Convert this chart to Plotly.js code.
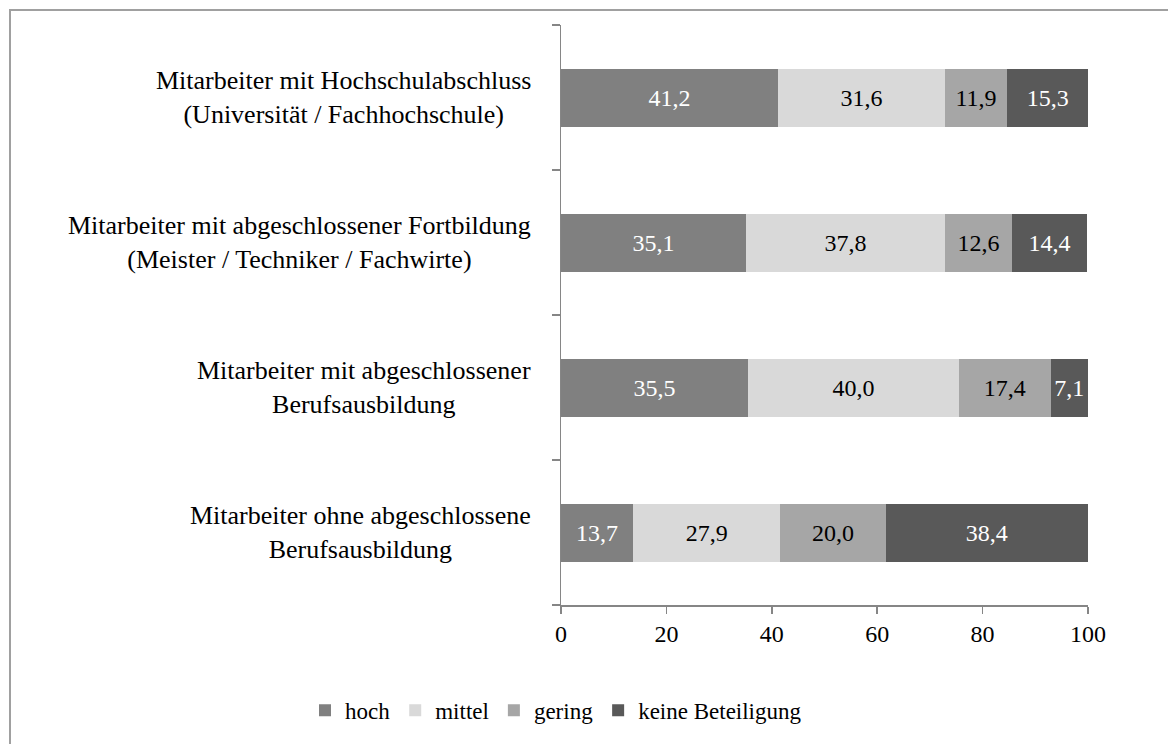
<!DOCTYPE html>
<html>
<head>
<meta charset="utf-8">
<script src="https://cdn.plot.ly/plotly-3.0.1.min.js"></script>
<style>html,body{margin:0;padding:0;background:#fff;}#chart{width:1168px;height:744px;}</style>
</head>
<body>
<div id="chart"></div>
<script>
var categories = [
  "Mitarbeiter ohne abgeschlossene<br>Berufsausbildung",
  "Mitarbeiter mit abgeschlossener<br>Berufsausbildung",
  "Mitarbeiter mit abgeschlossener Fortbildung<br>(Meister / Techniker / Fachwirte)",
  "Mitarbeiter mit Hochschulabschluss<br>(Universität / Fachhochschule)"
];
var seriesNames = ["hoch", "mittel", "gering", "keine Beteiligung"];
var hoch = [13.7, 35.5, 35.1, 41.2];
var mittel = [27.9, 40.0, 37.8, 31.6];
var gering = [20.0, 17.4, 12.6, 11.9];
var keine = [38.4, 7.1, 14.4, 15.3];
var xTicks = [0, 20, 40, 60, 80, 100];

var seriesValues = [hoch, mittel, gering, keine];
var colors = ["#808080", "#D9D9D9", "#A6A6A6", "#595959"];
var textColors = ["#ffffff", "#000000", "#000000", "#ffffff"];
var FONT = "'Times New Roman', 'Liberation Serif', Times, 'DejaVu Serif', serif";

var data = seriesValues.map(function (vals, i) {
  return {
    type: "bar",
    orientation: "h",
    name: seriesNames[i],
    x: vals,
    y: categories,
    marker: { color: colors[i], line: { width: 0 } },
    texttemplate: "%{x:.1f}",
    textposition: "inside",
    insidetextanchor: "middle",
    constraintext: "none",
    textfont: { family: FONT, size: 24, color: textColors[i] },
    hoverinfo: "x+name"
  };
});

var L = 561, R = 1088, T = 25, B = 609;
var W = R - L, H = B - T;
function px(x) { return (x - L) / W; }
function py(y) { return (B - y) / H; }

var annotations = categories.map(function (c) {
  return {
    xref: "paper", yref: "y", x: px(533), y: c,
    xanchor: "right", yanchor: "middle",
    text: c, showarrow: false, align: "center",
    font: { family: FONT, size: 26, color: "#000" }
  };
});

var layout = {
  width: 1168, height: 744,
  margin: { l: L, r: 1168 - R, t: T, b: 744 - B, pad: 0 },
  paper_bgcolor: "#fff", plot_bgcolor: "#fff",
  barmode: "stack",
  bargap: 0.6,
  separators: ",.",
  font: { family: FONT, size: 24, color: "#000" },
  xaxis: {
    range: [0, 100], tickvals: xTicks, ticktext: xTicks.map(String),
    showgrid: false, zeroline: false,
    showline: true, linecolor: "#868686", linewidth: 1.5,
    ticks: "outside", ticklen: 7, tickcolor: "#868686", tickwidth: 1.5,
    tickfont: { family: FONT, size: 24, color: "#000" },
    fixedrange: true
  },
  yaxis: {
    type: "category", categoryorder: "array", categoryarray: categories,
    showticklabels: false, showgrid: false, zeroline: false,
    showline: true, linecolor: "#868686", linewidth: 1.5,
    ticks: "outside", ticklen: 8, tickcolor: "#868686", tickwidth: 1.5,
    tickson: "boundaries",
    fixedrange: true
  },
  showlegend: true,
  legend: {
    orientation: "h", x: px(556), xanchor: "center", y: py(715), yanchor: "middle",
    font: { family: FONT, size: 23, color: "#000" },
    traceorder: "normal", itemwidth: 30, bgcolor: "rgba(0,0,0,0)"
  },
  annotations: annotations,
  shapes: [{
    type: "rect", xref: "paper", yref: "paper",
    x0: px(10), x1: px(1200), y0: py(800), y1: py(10),
    line: { color: "#a0a0a0", width: 2 }, fillcolor: "rgba(0,0,0,0)", layer: "below"
  }]
};

Plotly.newPlot("chart", data, layout, { displayModeBar: false, staticPlot: true });
</script>
</body>
</html>
